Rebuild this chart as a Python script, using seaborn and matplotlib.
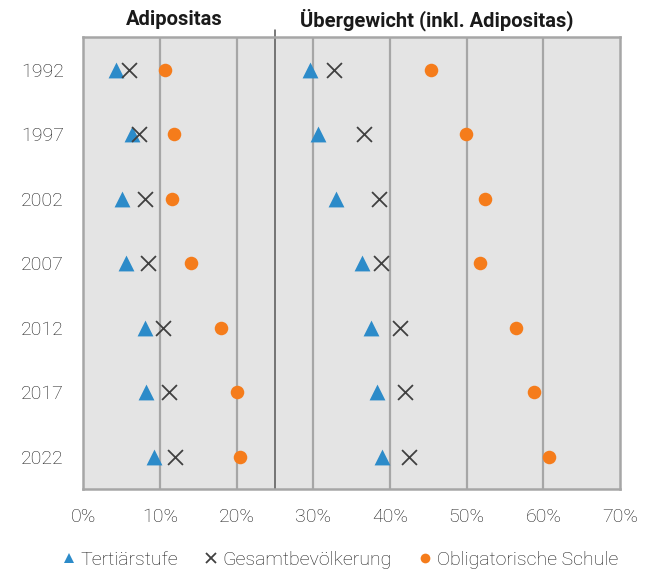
import matplotlib
matplotlib.use("Agg")
import matplotlib.pyplot as plt
import seaborn as sns
import pandas as pd
from matplotlib.lines import Line2D

sns.set_theme(style="white")
plt.rcParams['font.family'] = ['Roboto', 'DejaVu Sans']

years = [1992, 1997, 2002, 2007, 2012, 2017, 2022]
groups = ["Tertiärstufe", "Gesamtbevölkerung", "Obligatorische Schule"]

# Adipositas (%)
adi_tert = [4.3, 6.3, 5.1, 5.6, 8.0, 8.2, 9.2]
adi_ges = [5.9, 7.3, 8.0, 8.4, 10.4, 11.2, 12.0]
adi_obl = [10.7, 11.8, 11.6, 14.1, 17.9, 20.0, 20.5]

# Übergewicht inkl. Adipositas (%)
ueb_tert = [29.6, 30.6, 33.0, 36.3, 37.5, 38.3, 38.9]
ueb_ges = [32.7, 36.6, 38.5, 38.8, 41.3, 42.0, 42.5]
ueb_obl = [45.4, 49.9, 52.4, 51.7, 56.4, 58.8, 60.8]

xticks = [0, 10, 20, 30, 40, 50, 60, 70]
xticklabels = ["0%", "10%", "20%", "30%", "40%", "50%", "60%", "70%"]
panel_titles = ["Adipositas", "Übergewicht (inkl. Adipositas)"]

rows = []
for name, a, u in zip(groups, [adi_tert, adi_ges, adi_obl], [ueb_tert, ueb_ges, ueb_obl]):
    for y, va, vu in zip(years, a, u):
        rows.append({"Jahr": y, "Wert": va, "Gruppe": name})
        rows.append({"Jahr": y, "Wert": vu, "Gruppe": name})
df = pd.DataFrame(rows)

colors = {"Tertiärstufe": "#2C8BC9", "Gesamtbevölkerung": "#404040",
          "Obligatorische Schule": "#F57C1B"}
markers = {"Tertiärstufe": "^", "Gesamtbevölkerung": "x", "Obligatorische Schule": "o"}
sizes = {"Tertiärstufe": 130, "Gesamtbevölkerung": 115, "Obligatorische Schule": 95}

fig = plt.figure(figsize=(6.51, 5.74), dpi=100)
ax = fig.add_axes([0.128, 0.148, 0.8244, 0.7867])
ax.set_facecolor("#E4E4E4")

for g in groups:
    sub = df[df["Gruppe"] == g]
    kw = dict(linewidth=1.3) if g == "Gesamtbevölkerung" else dict(linewidth=0)
    sns.scatterplot(data=sub, x="Wert", y="Jahr", marker=markers[g], color=colors[g],
                    s=sizes[g], ax=ax, legend=False, zorder=3, **kw)

ax.set_xlim(0, 70)
ax.set_ylim(2024.5, 1989.5)
ax.set_xticks(xticks)
ax.set_xticklabels(xticklabels, fontweight="light")
ax.set_yticks(years)
ax.set_yticklabels([str(y) for y in years], fontweight="light")
ax.set_xlabel("")
ax.set_ylabel("")
ax.tick_params(axis="x", length=0, pad=14, labelsize=14, labelcolor="#1c1c1c")
ax.tick_params(axis="y", length=0, pad=14, labelsize=14, labelcolor="#1c1c1c")

for x in xticks[1:-1]:
    ax.axvline(x, color="#A6A6A6", linewidth=1.6, zorder=1)
for sp in ax.spines.values():
    sp.set_color("#A6A6A6")
    sp.set_linewidth(1.8)

ax.plot([25, 25], [2024.5, 1988.9], color="#555555", linewidth=1.1, clip_on=False, zorder=2)

ax.text(11.8, 1.039, panel_titles[0], transform=ax.get_xaxis_transform(), ha="center",
        va="center", fontsize=14.5, fontweight="bold", color="#1a1a1a")
ax.text(46.1, 1.039, panel_titles[1], transform=ax.get_xaxis_transform(), ha="center",
        va="center", fontsize=14.5, fontweight="bold", color="#1a1a1a")

handles = [Line2D([], [], linestyle="none", marker=markers[g], color=colors[g],
                  markersize=7 if g != "Gesamtbevölkerung" else 7.5,
                  markeredgewidth=1.3 if g == "Gesamtbevölkerung" else 0)
           for g in groups]
fig.legend(handles, groups, loc="center", bbox_to_anchor=(0.52, 0.024), ncol=3,
           frameon=False, handletextpad=0.1, columnspacing=1.2,
           handlelength=1.0, labelcolor="#1c1c1c",
           prop={"size": 14, "weight": "light"})

fig.savefig("out.png", dpi=100)
